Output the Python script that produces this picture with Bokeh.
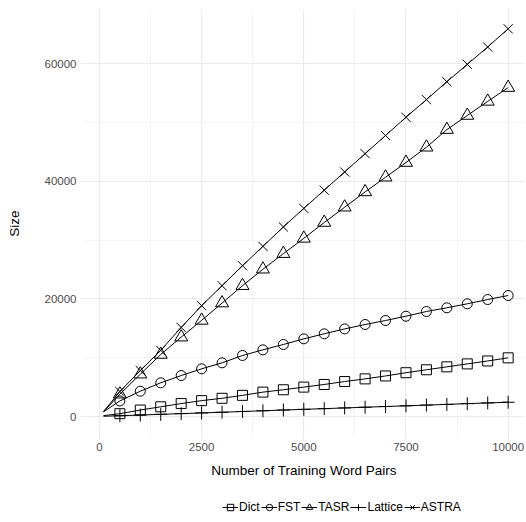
from bokeh.plotting import figure
from bokeh.layouts import column
from bokeh.models import (Legend, LegendItem, FixedTicker, Range1d, NumeralTickFormatter)
from bokeh.embed import file_html
from bokeh.resources import INLINE

pairs = [100, 500, 1000, 1500, 2000, 2500, 3000, 3500, 4000, 4500, 5000,
         5500, 6000, 6500, 7000, 7500, 8000, 8500, 9000, 9500, 10000]
dict_size = [150, 480, 1100, 1650, 2200, 2700, 3100, 3600, 4150, 4550, 5000,
             5450, 5950, 6400, 6900, 7450, 7950, 8450, 8950, 9450, 9980]
fst_size = [800, 2650, 4300, 5730, 6970, 8110, 9130, 10380, 11340, 12250, 13210,
            14070, 14900, 15650, 16330, 17060, 17860, 18490, 19170, 19900, 20580]
tasr_size = [800, 3800, 7200, 10550, 13500, 16350, 19300, 22250, 25050, 27700, 30300,
             33000, 35600, 38200, 40700, 43200, 45800, 48800, 51200, 53600, 55950]
lattice_size = [40, 130, 250, 370, 490, 610, 730, 850, 980, 1100, 1220,
                1340, 1460, 1580, 1700, 1820, 1940, 2060, 2190, 2310, 2430]
astra_size = [850, 4250, 7820, 11250, 15150, 18850, 22250, 25650, 28950, 32250, 35400,
              38500, 41600, 44700, 47800, 50900, 53900, 56950, 59900, 62850, 65950]

series = [
    ("Dict", dict_size, "square", 10),
    ("FST", fst_size, "circle", 10),
    ("TASR", tasr_size, "triangle", 13),
    ("Lattice", lattice_size, "cross", 13),
    ("ASTRA", astra_size, "x", 13),
]

x_ticks = [0, 2500, 5000, 7500, 10000]
y_ticks = [0, 20000, 40000, 60000]

FONT = "Liberation Sans"

p = figure(width=526, height=492, output_backend="svg", toolbar_location=None,
           x_range=Range1d(-390, 10400), y_range=Range1d(-3570, 69230),
           min_border_left=83, min_border_right=2, min_border_top=9,
           min_border_bottom=55)
p.outline_line_color = None
p.background_fill_color = "white"

for name, vals, marker, size in series:
    p.line(pairs, vals, line_color="black", line_width=1)
    p.scatter(pairs[1:], vals[1:], marker=marker, size=size,
              fill_color=None, line_color="black", line_width=1)

for ax in (p.xaxis[0], p.yaxis[0]):
    ax.axis_line_color = None
    ax.major_tick_line_color = "#EBEBEB"
    ax.major_tick_in = 0
    ax.major_tick_out = 3
    ax.minor_tick_line_color = None
    ax.major_label_text_font = FONT
    ax.major_label_text_font_size = "11.5px"
    ax.major_label_text_color = "#4D4D4D"
    ax.axis_label_text_font = FONT
    ax.axis_label_text_font_size = "13.5px"
    ax.axis_label_text_font_style = "normal"
    ax.axis_label_text_color = "black"
    ax.major_label_standoff = 3

p.xaxis.major_label_standoff = 1
p.xaxis.ticker = FixedTicker(ticks=x_ticks, minor_ticks=[1250, 3750, 6250, 8750])
p.yaxis.ticker = FixedTicker(ticks=y_ticks, minor_ticks=[10000, 30000, 50000])
p.xaxis.formatter = NumeralTickFormatter(format="0")
p.yaxis.formatter = NumeralTickFormatter(format="0")
p.xaxis.axis_label = "Number of Training Word Pairs"
p.yaxis.axis_label = "Size"
p.xaxis.axis_label_standoff = 9
p.yaxis.axis_label_standoff = 20

p.xgrid.grid_line_color = "#EBEBEB"
p.ygrid.grid_line_color = "#EBEBEB"
p.xgrid.grid_line_width = 1.2
p.ygrid.grid_line_width = 1.2
p.xgrid.minor_grid_line_color = "#F4F4F4"
p.ygrid.minor_grid_line_color = "#F4F4F4"
p.xgrid.minor_grid_line_width = 1
p.ygrid.minor_grid_line_width = 1

# legend strip: same series drawn outside its (empty) view, only the legend shows
lg = figure(width=526, height=30, output_backend="svg", toolbar_location=None,
            x_axis_type=None, y_axis_type=None, min_border=0,
            x_range=Range1d(-2, -1), y_range=Range1d(-2, -1))
lg.outline_line_color = None
lg.xgrid.visible = False
lg.ygrid.visible = False
items = []
for name, vals, marker, size in series:
    ln = lg.line(pairs, vals, line_color="black", line_width=1)
    sc = lg.scatter(pairs, vals, marker=marker, size=size,
                    fill_color=None, line_color="black", line_width=1)
    items.append(LegendItem(label=name, renderers=[ln, sc]))

legend = Legend(items=items, orientation="horizontal", location=(139, 4))
legend.label_text_font = FONT
legend.label_text_font_size = "12px"
legend.label_text_color = "black"
legend.glyph_width = 16
legend.glyph_height = 22
legend.label_standoff = 1
legend.spacing = 1
legend.padding = 1
legend.margin = 0
legend.border_line_color = None
legend.background_fill_alpha = 0
lg.add_layout(legend, "center")

layout = column(p, lg, spacing=0)
open("out.html", "w").write(file_html(layout, INLINE))
